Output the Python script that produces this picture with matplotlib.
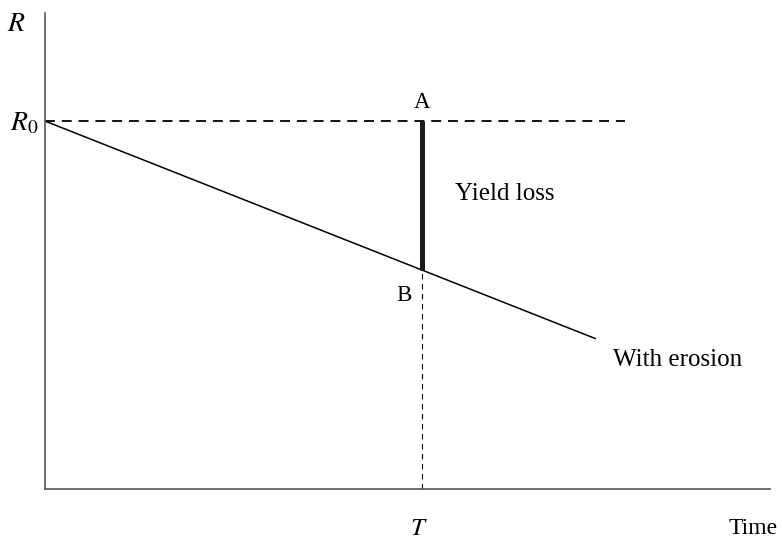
import matplotlib.pyplot as plt

# data (arbitrary units)
x_max, y_max = 10.0, 10.0
R0 = 7.73
T = 5.2
t_end = 7.59
slope = -0.602
dash_end = 8.0

time_pts = [0.0, t_end]
erosion_pts = [R0, R0 + slope * t_end]
R_T = R0 + slope * T

plt.rcParams['font.family'] = ['Liberation Serif', 'DejaVu Serif']

fig = plt.figure(figsize=(7.82, 5.46), dpi=100)
ax = fig.add_axes([0.0575, 0.1044, 0.9847 - 0.0575, 0.9762 - 0.1044])
ax.set_xlim(0, x_max)
ax.set_ylim(0, y_max)
for s in ['top', 'right']:
    ax.spines[s].set_visible(False)
for s in ['left', 'bottom']:
    ax.spines[s].set_color('#555555')
    ax.spines[s].set_linewidth(1.2)
ax.set_xticks([])
ax.set_yticks([])

# no-erosion reference level
ax.plot([0, dash_end], [R0, R0], color='black', lw=1.3, dashes=(5.5, 3.8))
# with erosion
ax.plot(time_pts, erosion_pts, color='black', lw=1.1)
# yield loss
ax.plot([T, T], [R_T, R0], color='#1a1a1a', lw=3.6, solid_capstyle='butt')
ax.plot([T, T], [0, R_T], color='black', lw=0.8, dashes=(5, 4))

fs = 18
ax.text(-0.08, R0 - 0.05, r'$R_0$', ha='right', va='center', fontsize=20,
        math_fontfamily='stix')
ax.text(-0.4, 9.75, r'$R$', ha='center', va='center', fontsize=20,
        math_fontfamily='stix')
ax.text(T, R0 + 0.4, 'A', ha='center', va='center', fontsize=16.5)
ax.text(T - 0.25, R_T - 0.53, 'B', ha='center', va='center', fontsize=16.5)
ax.text(5.66, 6.2, 'Yield loss', ha='left', va='center', fontsize=fs)
ax.text(7.83, 2.7, 'With erosion', ha='left', va='center', fontsize=fs)
ax.text(T - 0.04, -0.85, r'$T$', ha='center', va='center', fontsize=18,
        math_fontfamily='stix', clip_on=False)
ax.text(10.1, -0.82, 'Time', ha='right', va='center', fontsize=17,
        clip_on=False)

fig.savefig('out.png', dpi=100)
